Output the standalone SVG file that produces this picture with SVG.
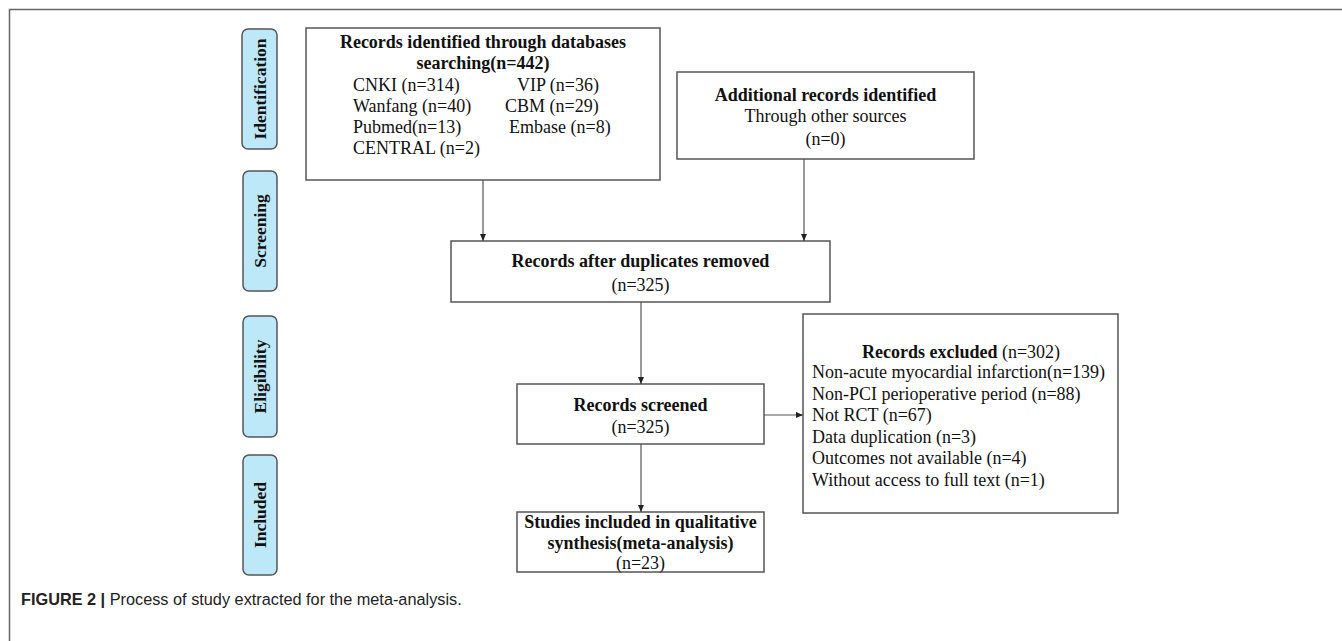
<svg xmlns="http://www.w3.org/2000/svg" width="1342" height="641" viewBox="0 0 1342 641">
<style>
.box{fill:#fff;stroke:#555;stroke-width:1.5}
.lab{fill:#bde8f8;stroke:#555;stroke-width:1.5}
.t{font-family:"Liberation Serif","Times New Roman",serif;font-size:18px;fill:#111}
.b{font-weight:bold}
.m{text-anchor:middle}
.lt{font-family:"Liberation Serif","Times New Roman",serif;font-size:17.5px;font-weight:bold;fill:#111;text-anchor:middle}
.c{stroke:#555;stroke-width:1.2;fill:none;marker-end:url(#ah)}
.cap{font-family:"Liberation Sans",Arial,sans-serif;font-size:16.3px;fill:#222}
</style>
<defs>
<marker id="ah" markerWidth="8" markerHeight="8" refX="7" refY="4" orient="auto" markerUnits="userSpaceOnUse">
<path d="M0,1 L7,4 L0,7 Z" fill="#222"/>
</marker>
</defs>
<rect width="1342" height="641" fill="#fff"/>
<g id="frame">
<path d="M1342,9.5 H9.5 V641" fill="none" stroke="#666" stroke-width="1.5"/>
</g>
<g id="stage-identification">
<rect class="lab" x="242" y="29" width="35" height="120" rx="6"/>
<text class="lt" transform="translate(266,89) rotate(-90)">Identification</text>
</g>
<g id="stage-screening">
<rect class="lab" x="243" y="171" width="34" height="120" rx="6"/>
<text class="lt" transform="translate(266,231) rotate(-90)">Screening</text>
</g>
<g id="stage-eligibility">
<rect class="lab" x="243" y="316" width="34" height="121" rx="6"/>
<text class="lt" transform="translate(266,376.5) rotate(-90)">Eligibility</text>
</g>
<g id="stage-included">
<rect class="lab" x="243" y="455" width="34" height="120" rx="6"/>
<text class="lt" transform="translate(266,515) rotate(-90)">Included</text>
</g>
<g id="node-databases">
<rect class="box" x="306" y="28" width="354" height="152"/>
<text class="t b m" x="483" y="48">Records identified through databases</text>
<text class="t b m" x="483" y="69">searching(n=442)</text>
<text class="t" x="353" y="91">CNKI (n=314)</text>
<text class="t" x="517" y="91">VIP (n=36)</text>
<text class="t" x="353" y="112">Wanfang (n=40)</text>
<text class="t" x="505" y="112">CBM (n=29)</text>
<text class="t" x="353" y="133">Pubmed(n=13)</text>
<text class="t" x="509" y="133">Embase (n=8)</text>
<text class="t" x="353" y="154">CENTRAL (n=2)</text>
</g>
<g id="node-additional">
<rect class="box" x="677" y="72" width="297" height="87"/>
<text class="t b m" x="825.5" y="101">Additional records identified</text>
<text class="t m" x="825.5" y="122">Through other sources</text>
<text class="t m" x="825.5" y="145">(n=0)</text>
</g>
<g id="node-duplicates">
<rect class="box" x="451" y="241" width="379" height="61"/>
<text class="t b m" x="640.5" y="267">Records after duplicates removed</text>
<text class="t m" x="640.5" y="291">(n=325)</text>
</g>
<g id="node-screened">
<rect class="box" x="517" y="384" width="247" height="60"/>
<text class="t b m" x="640.5" y="411">Records screened</text>
<text class="t m" x="640.5" y="433">(n=325)</text>
</g>
<g id="node-included">
<rect class="box" x="517" y="512" width="247" height="60"/>
<text class="t b m" x="640.5" y="528">Studies included in qualitative</text>
<text class="t b m" x="640.5" y="549">synthesis(meta-analysis)</text>
<text class="t m" x="640.5" y="569">(n=23)</text>
</g>
<g id="node-excluded">
<rect class="box" x="803" y="314" width="315" height="199"/>
<text class="t m" x="961" y="358"><tspan class="b">Records excluded</tspan> (n=302)</text>
<text class="t" x="812" y="378">Non-acute myocardial infarction(n=139)</text>
<text class="t" x="812" y="400">Non-PCI perioperative period (n=88)</text>
<text class="t" x="812" y="421">Not RCT (n=67)</text>
<text class="t" x="812" y="443">Data duplication (n=3)</text>
<text class="t" x="812" y="464">Outcomes not available (n=4)</text>
<text class="t" x="812" y="486">Without access to full text (n=1)</text>
</g>
<g id="connectors">
<line class="c" x1="483" y1="180" x2="483" y2="241"/>
<line class="c" x1="804" y1="159" x2="804" y2="241"/>
<line class="c" x1="641" y1="302" x2="641" y2="384"/>
<line class="c" x1="641" y1="444" x2="641" y2="512"/>
<line class="c" x1="764" y1="415" x2="803" y2="415"/>
</g>
<g id="caption">
<text class="cap" x="21" y="605"><tspan font-weight="bold">FIGURE 2 |</tspan> Process of study extracted for the meta-analysis.</text>
</g>
</svg>
